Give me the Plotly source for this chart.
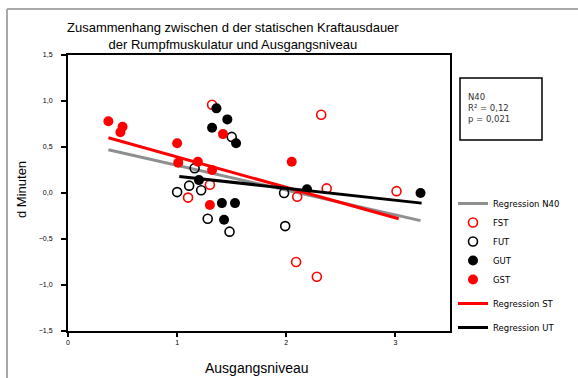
import plotly.graph_objects as go

# ---- data ----
fst_x = [1.32, 2.32, 2.37, 2.10, 3.01, 2.09, 2.28, 1.10, 1.30]
fst_y = [0.96, 0.85, 0.05, -0.04, 0.02, -0.75, -0.91, -0.05, 0.09]

fut_x = [1.00, 1.11, 1.22, 1.28, 1.48, 1.16, 1.50, 1.98, 1.99]
fut_y = [0.01, 0.08, 0.03, -0.28, -0.42, 0.27, 0.61, 0.00, -0.36]

gut_x = [1.36, 1.46, 1.32, 1.54, 1.41, 1.53, 1.43, 3.23, 1.20, 2.19]
gut_y = [0.92, 0.80, 0.71, 0.54, -0.11, -0.11, -0.29, 0.00, 0.14, 0.04]

gst_x = [0.37, 0.50, 0.48, 1.00, 1.01, 1.19, 1.42, 1.30, 1.32, 2.05]
gst_y = [0.78, 0.72, 0.66, 0.54, 0.33, 0.34, 0.64, -0.13, 0.25, 0.34]

reg_n40_x = [0.37, 3.23]
reg_n40_y = [0.47, -0.30]
reg_st_x = [0.37, 3.03]
reg_st_y = [0.60, -0.28]
reg_ut_x = [1.02, 3.24]
reg_ut_y = [0.18, -0.11]

x_ticks = [0, 1, 2, 3]
y_ticks = [-1.5, -1.0, -0.5, 0.0, 0.5, 1.0, 1.5]

FONT = "Liberation Sans, Arial, sans-serif"
WIDE = "DejaVu Sans, Verdana, sans-serif"
GRAY = "#8f8f8f"
RED = "#ff0000"

fig = go.Figure()

fig.add_trace(go.Scatter(x=reg_n40_x, y=reg_n40_y, mode="lines", name="Regression N40",
                         line=dict(color=GRAY, width=3), legendgroup="a"))
fig.add_trace(go.Scatter(x=fst_x, y=fst_y, mode="markers", name="FST", legendgroup="a",
                         marker=dict(symbol="circle-open", size=9, color=RED, line=dict(width=1.6, color=RED))))
fig.add_trace(go.Scatter(x=fut_x, y=fut_y, mode="markers", name="FUT", legendgroup="a",
                         marker=dict(symbol="circle-open", size=9, color="black", line=dict(width=1.6, color="black"))))
fig.add_trace(go.Scatter(x=gut_x, y=gut_y, mode="markers", name="GUT", legendgroup="a",
                         marker=dict(symbol="circle", size=10, color="black")))
fig.add_trace(go.Scatter(x=gst_x, y=gst_y, mode="markers", name="GST", legendgroup="a",
                         marker=dict(symbol="circle", size=10, color=RED)))
fig.add_trace(go.Scatter(x=reg_st_x, y=reg_st_y, mode="lines", name="Regression ST",
                         line=dict(color=RED, width=3), legendgroup="b"))
fig.add_trace(go.Scatter(x=reg_ut_x, y=reg_ut_y, mode="lines", name="Regression UT",
                         line=dict(color="black", width=3), legendgroup="c"))

W, H = 578, 378
L, R, T, B = 68, 128, 55, 47
pw, ph = W - L - R, H - T - B


def px(xp):
    return (xp - L) / pw


def py(yp):
    return (H - B - yp) / ph


fig.update_layout(
    width=W, height=H,
    margin=dict(l=L, r=R, t=T, b=B),
    paper_bgcolor="white", plot_bgcolor="white",
    separators=",.",
    font=dict(family=FONT, size=8, color="black"),
    showlegend=True,
    legend=dict(x=px(453), y=py(189), xanchor="left", yanchor="top",
                traceorder="grouped", tracegroupgap=5,
                font=dict(family=WIDE, size=8.5, color="black"),
                bgcolor="rgba(0,0,0,0)", borderwidth=0, itemwidth=30),
    xaxis=dict(range=[0, 3.5], tickvals=x_ticks, ticktext=[str(v) for v in x_ticks],
               showgrid=False, zeroline=False, showline=True, linecolor="black", linewidth=2,
               mirror=True, ticks="outside", ticklen=4, tickwidth=1.5, tickcolor="black",
               tickfont=dict(family=FONT, size=7)),
    yaxis=dict(range=[-1.5, 1.5], tickvals=y_ticks, tickformat=".1f",
               showgrid=False, zeroline=False, showline=True, linecolor="black", linewidth=2,
               mirror=True, ticks="outside", ticklen=5, tickwidth=1.5, tickcolor="black",
               tickfont=dict(family=FONT, size=7), ticklabelstandoff=7),
)

# outer frame
fig.add_shape(type="line", xref="paper", yref="paper", x0=px(7), x1=px(600), y0=py(9), y1=py(9),
              line=dict(color="#a8a8a8", width=2))
fig.add_shape(type="line", xref="paper", yref="paper", x0=px(7), x1=px(7), y0=py(9), y1=py(400),
              line=dict(color="#a8a8a8", width=2))

# stats box
fig.add_shape(type="rect", xref="paper", yref="paper", x0=px(460), x1=px(542), y0=py(140), y1=py(78),
              line=dict(color="black", width=1.5), fillcolor="white")
fig.add_annotation(xref="paper", yref="paper", x=px(466), y=py(108), xanchor="left", yanchor="middle",
                   align="left", showarrow=False,
                   text="N40<br>R² = 0,12<br>p = 0,021",
                   font=dict(family=WIDE, size=8.5, color="#333333"))

# title
fig.add_annotation(xref="paper", yref="paper", x=px(233), y=py(36), xanchor="center", yanchor="middle",
                   showarrow=False, align="center",
                   text="Zusammenhang zwischen d der statischen Kraftausdauer<br>der Rumpfmuskulatur und Ausgangsniveau",
                   font=dict(family=FONT, size=13, color="black"))

# axis titles
fig.add_annotation(xref="paper", yref="paper", x=px(257), y=py(368), xanchor="center", yanchor="middle",
                   showarrow=False, text="Ausgangsniveau", font=dict(family=FONT, size=14, color="black"))
fig.add_annotation(xref="paper", yref="paper", x=px(21), y=py(190), xanchor="center", yanchor="middle",
                   showarrow=False, text="d Minuten", textangle=-90, font=dict(family=FONT, size=13, color="black"))

fig.write_html("out.html")
